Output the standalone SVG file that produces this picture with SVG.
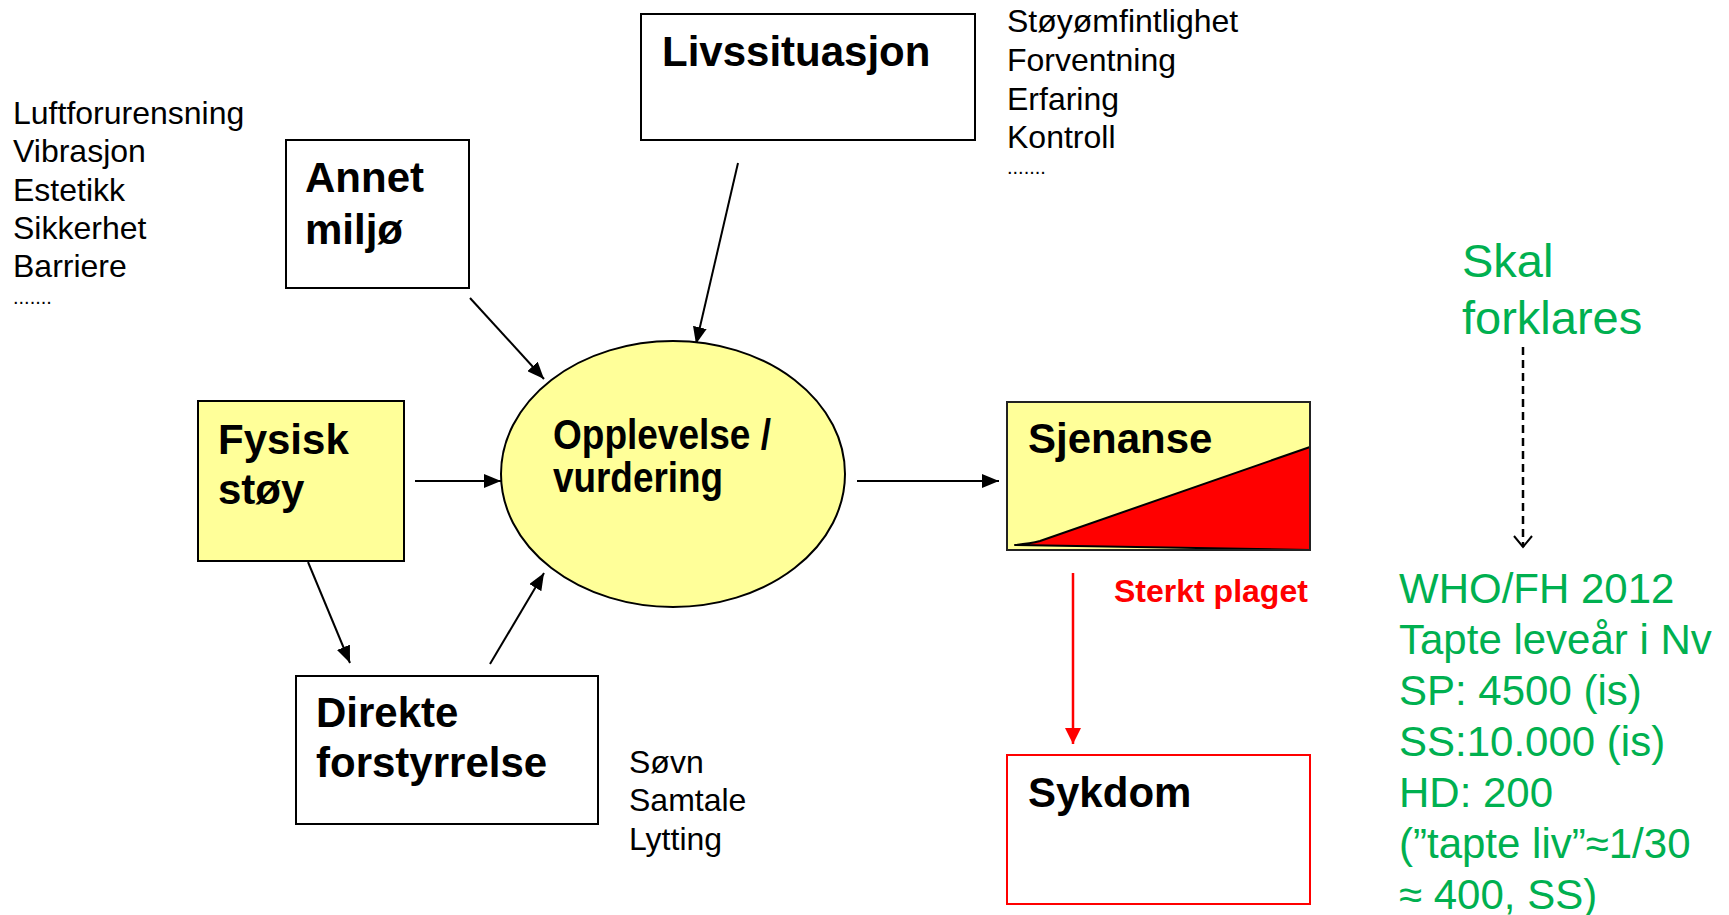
<svg xmlns="http://www.w3.org/2000/svg" width="1729" height="915" viewBox="0 0 1729 915">
<defs>
<style>
.box{fill:#fff;stroke:#000;stroke-width:2}
.yel{fill:#FFFF99;stroke:#000;stroke-width:2}
.t{font-family:"Liberation Sans",Arial,sans-serif;font-size:32px;fill:#000}
.b{font-family:"Liberation Sans",Arial,sans-serif;font-size:42px;font-weight:bold;fill:#000}
.g{font-family:"Liberation Sans",Arial,sans-serif;fill:#00B050}
.dots{font-family:"Liberation Sans",Arial,sans-serif;font-size:20px;fill:#000}
.c{stroke:#000;stroke-width:2;fill:none}
</style>
<marker id="ah" markerWidth="17" markerHeight="14" refX="17" refY="7" orient="auto" markerUnits="userSpaceOnUse">
<path d="M0,0 L17,7 L0,14 Z" fill="#000"/>
</marker>
<marker id="ahr" markerWidth="16" markerHeight="16" refX="16" refY="8" orient="auto" markerUnits="userSpaceOnUse">
<path d="M0,0 L16,8 L0,16 Z" fill="#FF0000"/>
</marker>
<marker id="aho" markerWidth="14" markerHeight="20" refX="12" refY="10" orient="auto" markerUnits="userSpaceOnUse">
<path d="M1,1 L12,10 L1,19" fill="none" stroke="#000" stroke-width="2"/>
</marker>
</defs>
<rect width="1729" height="915" fill="#fff"/>

<g id="connectors">
<line class="c" x1="470" y1="298" x2="544" y2="379" marker-end="url(#ah)"/>
<line class="c" x1="738" y1="163" x2="696" y2="344" marker-end="url(#ah)"/>
<line class="c" x1="415" y1="481" x2="501" y2="481" marker-end="url(#ah)"/>
<line class="c" x1="857" y1="481" x2="999" y2="481" marker-end="url(#ah)"/>
<line class="c" x1="308" y1="562" x2="350" y2="663" marker-end="url(#ah)"/>
<line class="c" x1="490" y1="664" x2="544" y2="573" marker-end="url(#ah)"/>
<line x1="1073" y1="573" x2="1073" y2="744" stroke="#FF0000" stroke-width="2.5" marker-end="url(#ahr)"/>
<line x1="1523" y1="347" x2="1523" y2="547" stroke="#000" stroke-width="2.5" stroke-dasharray="8,5" marker-end="url(#aho)"/>
</g>

<g id="left-list">
<text class="t" x="13" y="124">Luftforurensning</text>
<text class="t" x="13" y="162">Vibrasjon</text>
<text class="t" x="13" y="201">Estetikk</text>
<text class="t" x="13" y="239">Sikkerhet</text>
<text class="t" x="13" y="277">Barriere</text>
<text class="dots" x="13" y="304">.......</text>
</g>

<g id="annet">
<rect class="box" x="286" y="140" width="183" height="148"/>
<text class="b" x="305" y="192">Annet</text>
<text class="b" x="305" y="244">miljø</text>
</g>

<g id="livssituasjon">
<rect class="box" x="641" y="14" width="334" height="126"/>
<text class="b" x="662" y="66">Livssituasjon</text>
</g>

<g id="right-list">
<text class="t" x="1007" y="32">Støyømfintlighet</text>
<text class="t" x="1007" y="71">Forventning</text>
<text class="t" x="1007" y="110">Erfaring</text>
<text class="t" x="1007" y="148">Kontroll</text>
<text class="dots" x="1007" y="174">.......</text>
</g>

<g id="fysisk">
<rect class="yel" x="198" y="401" width="206" height="160"/>
<text class="b" x="218" y="454">Fysisk</text>
<text class="b" x="218" y="504">støy</text>
</g>

<g id="opplevelse">
<ellipse cx="673" cy="474" rx="172" ry="133" fill="#FFFF99" stroke="#000" stroke-width="2"/>
<text class="b" x="553" y="449" font-size="40" textLength="218" lengthAdjust="spacingAndGlyphs">Opplevelse /</text>
<text class="b" x="553" y="492" font-size="40" textLength="170" lengthAdjust="spacingAndGlyphs">vurdering</text>
</g>

<g id="sjenanse">
<rect x="1007" y="402" width="303" height="148" fill="#FFFF99" stroke="#222" stroke-width="2"/>
<path d="M1015,545 C1025,544 1032,543 1040,541 L1310,447 L1310,550 Z" fill="#FF0000" stroke="#000" stroke-width="2" stroke-linejoin="round"/>
<rect x="1007" y="402" width="303" height="148" fill="none" stroke="#222" stroke-width="2"/>
<text class="b" x="1028" y="453">Sjenanse</text>
</g>

<text x="1114" y="602" font-family="Liberation Sans, Arial, sans-serif" font-size="32" font-weight="bold" fill="#FF0000">Sterkt plaget</text>

<g id="direkte">
<rect class="box" x="296" y="676" width="302" height="148"/>
<text class="b" x="316" y="727">Direkte</text>
<text class="b" x="316" y="777">forstyrrelse</text>
</g>

<g id="direkte-list">
<text class="t" x="629" y="773">Søvn</text>
<text class="t" x="629" y="811">Samtale</text>
<text class="t" x="629" y="850">Lytting</text>
</g>

<g id="sykdom">
<rect x="1007" y="755" width="303" height="149" fill="#fff" stroke="#FF0000" stroke-width="2"/>
<text class="b" x="1028" y="807">Sykdom</text>
</g>

<g id="skal">
<text class="g" font-size="47" x="1462" y="277">Skal</text>
<text class="g" font-size="47" x="1462" y="334">forklares</text>
</g>

<g id="who">
<text class="g" font-size="42" x="1399" y="603">WHO/FH 2012</text>
<text class="g" font-size="42" x="1399" y="654">Tapte leveår i Nv</text>
<text class="g" font-size="42" x="1399" y="705">SP: 4500 (is)</text>
<text class="g" font-size="42" x="1399" y="756">SS:10.000 (is)</text>
<text class="g" font-size="42" x="1399" y="807">HD: 200</text>
<text class="g" font-size="42" x="1399" y="858">(”tapte liv”≈1/30</text>
<text class="g" font-size="42" x="1399" y="909">≈ 400, SS)</text>
</g>
</svg>
